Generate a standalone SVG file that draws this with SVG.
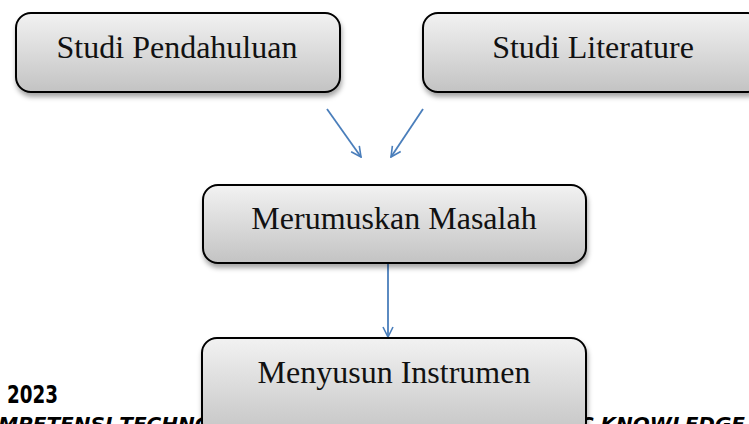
<svg xmlns="http://www.w3.org/2000/svg" width="749" height="424" viewBox="0 0 749 424">
<defs>
<linearGradient id="g" x1="0" y1="0" x2="0" y2="1">
<stop offset="0" stop-color="#f2f2f2"/>
<stop offset="1" stop-color="#c3c3c3"/>
</linearGradient>
<filter id="sh" x="-10%" y="-20%" width="120%" height="150%">
<feDropShadow dx="1" dy="4" stdDeviation="2.5" flood-color="#000" flood-opacity="0.35"/>
</filter>
<marker id="ah" viewBox="0 0 12 12" refX="11" refY="6" markerWidth="12" markerHeight="12" markerUnits="userSpaceOnUse" orient="auto">
<path d="M1,1 L11,6 L1,11" fill="none" stroke="#4a7ebb" stroke-width="1.6"/>
</marker>
<style>
.box{fill:url(#g);stroke:#000;stroke-width:2;filter:url(#sh)}
.lbl{font-family:"Liberation Serif","Times New Roman",serif;font-size:32px;fill:#111;text-anchor:middle}
.bg{font-family:"DejaVu Sans","Liberation Sans",sans-serif;font-weight:bold;fill:#000}
.con{stroke:#4a7ebb;stroke-width:1.8;fill:none;marker-end:url(#ah)}
</style>
</defs>
<rect width="749" height="424" fill="#fff"/>
<g id="background-text">
<text class="bg" x="7" y="403" font-size="24" textLength="51" lengthAdjust="spacingAndGlyphs">2023</text>
<text class="bg" x="-33" y="431" font-size="20" font-style="italic">KOMPETENSI TECHNOLOGICAL</text>
<text class="bg" x="745" y="431" font-size="20" font-style="italic" text-anchor="end">C KNOWLEDGE</text>
</g>
<g id="connectors">
<line class="con" x1="327" y1="109" x2="361" y2="157"/>
<line class="con" x1="423" y1="109" x2="391" y2="157"/>
<line class="con" x1="388" y1="264" x2="388" y2="337"/>
</g>
<g id="studi-pendahuluan">
<rect class="box" x="16" y="13" width="324" height="79" rx="15"/>
<text class="lbl" x="177" y="58">Studi Pendahuluan</text>
</g>
<g id="studi-literature">
<rect class="box" x="423" y="13" width="340" height="79" rx="15"/>
<text class="lbl" x="593" y="58">Studi Literature</text>
</g>
<g id="merumuskan-masalah">
<rect class="box" x="203" y="185" width="383" height="78" rx="15"/>
<text class="lbl" x="394" y="229">Merumuskan Masalah</text>
</g>
<g id="menyusun-instrumen">
<rect class="box" x="202" y="338" width="384" height="100" rx="15"/>
<text class="lbl" x="394" y="383">Menyusun Instrumen</text>
</g>
</svg>
